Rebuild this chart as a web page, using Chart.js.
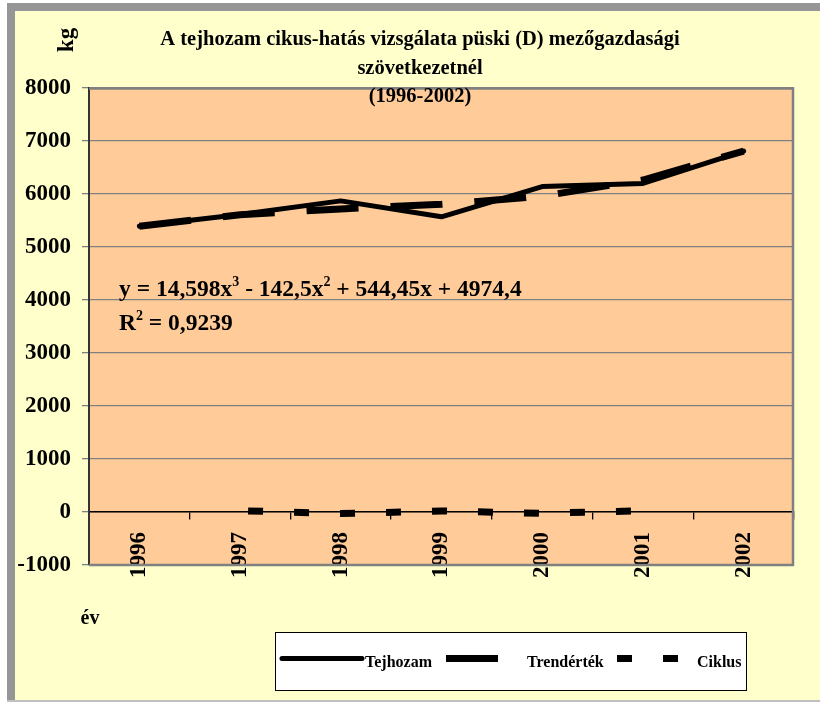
<!DOCTYPE html>
<html>
<head>
<meta charset="utf-8">
<script src="https://cdn.jsdelivr.net/npm/chart.js@4.4.1/dist/chart.umd.min.js"></script>
<style>
  html, body { margin: 0; padding: 0; background: #fff; }
  canvas { display: block; }
</style>
</head>
<body>
<canvas id="grafico" width="820" height="703"></canvas>
<script>
// adatok
const evek = ["1996", "1997", "1998", "1999", "2000", "2001", "2002"];
const tejhozam = [5390, 5615, 5870, 5570, 6140, 6200, 6810];
const trendertek = [5391, 5610, 5719, 5806, 5959, 6264, 6810];
const ciklus = [null, 25, -30, 20, -25, 25, null];

const yMin = -1000;
const yMax = 8000;
const yLepes = 1000;

const cimSorok = ["A tejhozam cikus-hatás vizsgálata püski (D) mezőgazdasági", "szövetkezetnél", "(1996-2002)"];
const yCim = "kg";
const xCim = "év";
const egyenlet = [["y = 14,598x"], ["3", true], [" - 142,5x"], ["2", true], [" + 544,45x + 4974,4"]];
const rNegyzet = [["R"], ["2", true], [" = 0,9239"]];

const BETU = "'Liberation Serif', 'Times New Roman', serif";

function szovegReszek(ctx, reszek, x, y, meret, supMeret) {
  let cx = x;
  reszek.forEach(([t, sup]) => {
    ctx.font = "bold " + (sup ? supMeret : meret) + "px " + BETU;
    ctx.fillText(t, cx, sup ? y - meret * 0.42 : y);
    cx += ctx.measureText(t).width;
  });
}

const hatter = {
  id: "hatter",
  beforeDraw(chart) {
    const { ctx, chartArea: a } = chart;
    ctx.save();
    ctx.fillStyle = "#ffffff";
    ctx.fillRect(0, 0, 820, 703);
    ctx.fillStyle = "#969696";
    ctx.fillRect(7, 3, 813, 699);
    ctx.fillStyle = "#ffffcc";
    ctx.fillRect(15, 11, 805, 689);
    ctx.fillStyle = "#c0c0c0";
    ctx.fillRect(7, 700, 813, 2);
    ctx.fillStyle = "#ffcc99";
    ctx.fillRect(a.left, a.top, a.right - a.left, a.bottom - a.top);
    ctx.restore();
  },
  afterDraw(chart) {
    const { ctx, chartArea: a } = chart;
    ctx.save();

    // keret
    ctx.strokeStyle = "#808080";
    ctx.lineWidth = 2.5;
    ctx.beginPath();
    ctx.moveTo(a.left, a.top + 0.5);
    ctx.lineTo(a.right - 1, a.top + 0.5);
    ctx.lineTo(a.right - 1, a.bottom);
    ctx.lineTo(a.left, a.bottom);
    ctx.stroke();

    // cim
    ctx.fillStyle = "#000";
    ctx.textAlign = "center";
    ctx.textBaseline = "middle";
    ctx.font = "bold 20.5px " + BETU;
    cimSorok.forEach((s, i) => ctx.fillText(s, 420, 40 + i * 28.5));

    // tengelycimek
    ctx.font = "bold 23px " + BETU;
    ctx.save();
    ctx.translate(67, 40);
    ctx.rotate(-Math.PI / 2);
    ctx.fillText(yCim, 0, 0);
    ctx.restore();
    ctx.font = "bold 20px " + BETU;
    ctx.fillText(xCim, 90, 619);

    // egyenlet
    ctx.textAlign = "left";
    ctx.textBaseline = "alphabetic";
    szovegReszek(ctx, egyenlet, 119, 296, 23.5, 14);
    szovegReszek(ctx, rNegyzet, 119, 330, 23.5, 14);

    // jelmagyarazat
    ctx.fillStyle = "#fff";
    ctx.fillRect(275.5, 632.5, 471, 58);
    ctx.strokeStyle = "#000";
    ctx.lineWidth = 1;
    ctx.setLineDash([]);
    ctx.strokeRect(275.5, 632.5, 471, 58);
    const helyek = [[282, 362, 365], [446, 500, 527], [617, 680, 697]];
    chart.data.datasets.forEach((ds, i) => {
      const [x0, x1, tx] = helyek[i];
      ctx.strokeStyle = ds.borderColor;
      ctx.lineWidth = ds.borderWidth;
      ctx.lineCap = ds.borderCapStyle || "butt";
      ctx.setLineDash(ds.borderDash || []);
      ctx.beginPath();
      ctx.moveTo(x0, 658.5);
      ctx.lineTo(x1, 658.5);
      ctx.stroke();
      ctx.setLineDash([]);
      ctx.fillStyle = "#000";
      ctx.font = "bold 16px " + BETU;
      ctx.fillText(ds.label, tx, 667);
    });
    ctx.restore();
  }
};

new Chart(document.getElementById("grafico"), {
  type: "line",
  data: {
    labels: evek,
    datasets: [
      {
        label: "Tejhozam",
        data: tejhozam,
        borderColor: "#000",
        borderWidth: 5,
        borderCapStyle: "round",
        borderJoinStyle: "round",
        pointRadius: 0,
        tension: 0
      },
      {
        label: "Trendérték",
        data: trendertek,
        borderColor: "#000",
        borderWidth: 7,
        borderDash: [52, 32],
        borderCapStyle: "butt",
        pointRadius: 0,
        tension: 0
      },
      {
        label: "Ciklus",
        data: ciklus,
        borderColor: "#000",
        borderWidth: 7,
        borderDash: [15, 31],
        borderDashOffset: 38,
        borderCapStyle: "butt",
        pointRadius: 0,
        tension: 0
      }
    ]
  },
  options: {
    responsive: false,
    devicePixelRatio: 1,
    animation: false,
    events: [],
    layout: { padding: { top: 88, right: 26, bottom: 138, left: 0 } },
    plugins: {
      legend: { display: false },
      title: { display: false },
      tooltip: { enabled: false }
    },
    scales: {
      x: {
        type: "category",
        position: { y: 0 },
        offset: true,
        grid: {
          offset: true,
          drawOnChartArea: false,
          drawTicks: true,
          tickLength: 7,
          color: "#000",
          lineWidth: 1.3
        },
        border: { display: true, color: "#000", width: 1.5 },
        ticks: {
          autoSkip: false,
          minRotation: 90,
          maxRotation: 90,
          padding: 13,
          color: "#000",
          font: { family: BETU, size: 23, weight: "bold" }
        }
      },
      y: {
        min: yMin,
        max: yMax,
        afterFit(scale) { scale.width = 89; },
        grid: {
          color: "#808080",
          lineWidth: 1.3,
          tickLength: 7
        },
        border: { display: true, color: "#333", width: 2 },
        ticks: {
          stepSize: yLepes,
          padding: 11,
          color: "#000",
          font: { family: BETU, size: 23, weight: "bold" },
          callback: (v) => String(v)
        }
      }
    }
  },
  plugins: [hatter]
});
</script>
</body>
</html>
